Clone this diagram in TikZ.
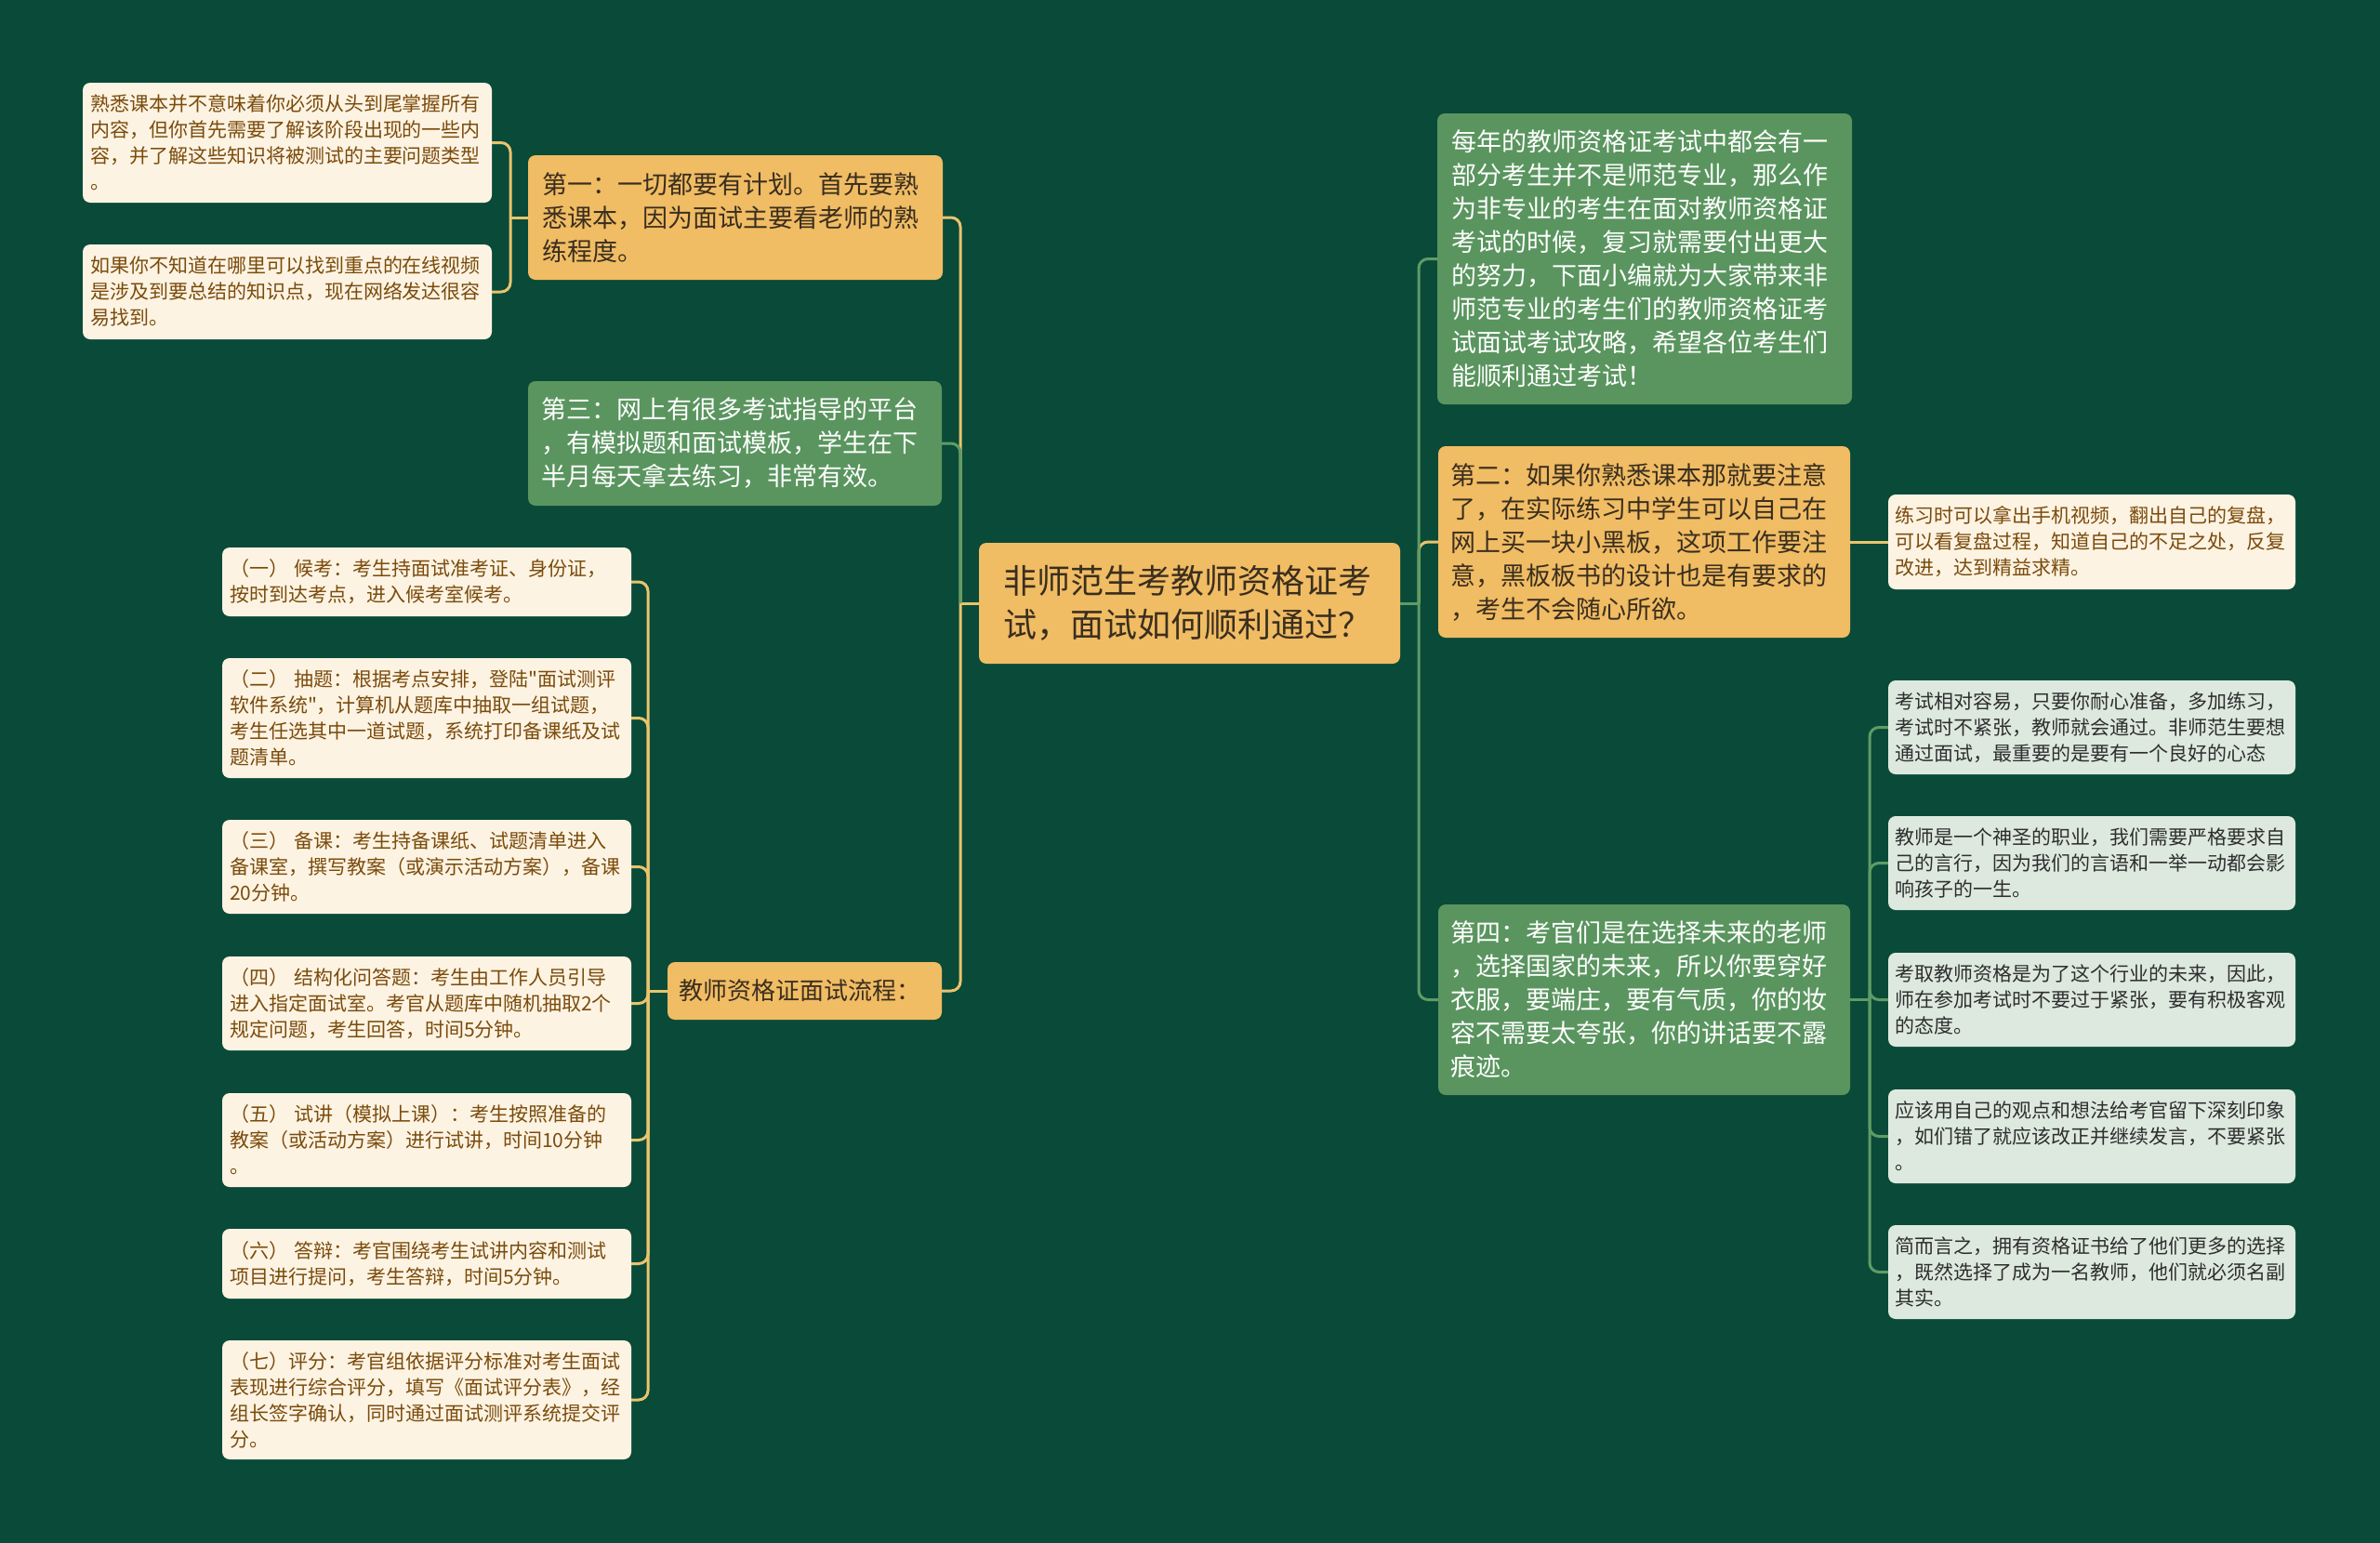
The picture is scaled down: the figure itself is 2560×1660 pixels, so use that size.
\documentclass[tikz,border=0pt]{standalone}
\usepackage{fontspec}
\newfontfamily\cjk{Noto Sans CJK SC}
\definecolor{bgc}{HTML}{0A4A38}
\definecolor{ofill}{HTML}{F0BC64}
\definecolor{gfill}{HTML}{5A955F}
\definecolor{cream}{HTML}{FCF3E3}
\definecolor{lgreen}{HTML}{DDE9DF}
\definecolor{ctext}{HTML}{7B4B0B}
\definecolor{otext}{HTML}{3A2E1E}
\definecolor{gtext}{HTML}{2E2E2E}
\definecolor{olinec}{HTML}{E9C46E}
\definecolor{glinec}{HTML}{5E9C66}
\tikzset{
  base/.style={rounded corners=8pt, inner sep=0pt, align=left},
  onode/.style={base, fill=ofill, text=otext},
  gnode/.style={base, fill=gfill, text=white},
  cleaf/.style={base, fill=cream, text=ctext, font=\cjk\fontsize{21pt}{28pt}\selectfont},
  gleaf/.style={base, fill=lgreen, text=gtext, font=\cjk\fontsize{21pt}{28pt}\selectfont},
  mid/.style={font=\cjk\fontsize{27pt}{36pt}\selectfont},
  bx/.style n args={3}{minimum width=#1pt, minimum height=#2pt, text width=#3pt},
  oconn/.style={draw=olinec, line width=3pt, rounded corners=10pt},
  gconn/.style={draw=glinec, line width=3pt, rounded corners=10pt},
}
\begin{document}
\begin{tikzpicture}[x=1pt,y=-1pt]
\fill[bgc] (0,0) rectangle (2560,1660);
\useasboundingbox (0,0) rectangle (2560,1660);

% trunk coordinates
\coordinate (tl) at (1033,649);
\coordinate (tr) at (1526,649);
\coordinate (t1) at (549,234);
\coordinate (tf) at (697,1066);
\coordinate (t4) at (2011,1075);

% centre
\node[onode, bx={453}{130}{400}, font=\cjk\fontsize{36pt}{47pt}\selectfont] (c) at (1279.5,649)
  {非师范生考教师资格证考\\试，面试如何顺利通过？};

% left main branches
\node[onode, mid, bx={446}{134}{416}] (n1) at (791,234)
  {第一：一切都要有计划。首先要熟\\悉课本，因为面试主要看老师的熟\\练程度。};
\node[gnode, mid, bx={445}{134}{416}] (n3) at (790.5,477)
  {第三：网上有很多考试指导的平台\\，有模拟题和面试模板，学生在下\\半月每天拿去练习，非常有效。};
\node[onode, bx={295}{62}{271}, font=\cjk\fontsize{26pt}{34pt}\selectfont] (fl) at (865.5,1066)
  {教师资格证面试流程：};

% right main branches
\node[gnode, mid, bx={446}{313}{416}] (in) at (1769,278.5)
  {每年的教师资格证考试中都会有一\\部分考生并不是师范专业，那么作\\为非专业的考生在面对教师资格证\\考试的时候，复习就需要付出更大\\的努力，下面小编就为大家带来非\\师范专业的考生们的教师资格证考\\试面试考试攻略，希望各位考生们\\能顺利通过考试！};
\node[onode, mid, bx={443}{206}{416}] (n2) at (1768.5,583)
  {第二：如果你熟悉课本那就要注意\\了，在实际练习中学生可以自己在\\网上买一块小黑板，这项工作要注\\意，黑板板书的设计也是有要求的\\，考生不会随心所欲。};
\node[gnode, mid, bx={443}{205}{416}] (n4) at (1768.5,1075.5)
  {第四：考官们是在选择未来的老师\\，选择国家的未来，所以你要穿好\\衣服，要端庄，要有气质，你的妆\\容不需要太夸张，你的讲话要不露\\痕迹。};

% leaves of n1
\node[cleaf, bx={440}{129}{424}] (a1) at (309,153.5)
  {熟悉课本并不意味着你必须从头到尾掌握所有\\内容，但你首先需要了解该阶段出现的一些内\\容，并了解这些知识将被测试的主要问题类型\\。};
\node[cleaf, bx={440}{102}{424}] (a2) at (309,314)
  {如果你不知道在哪里可以找到重点的在线视频\\是涉及到要总结的知识点，现在网络发达很容\\易找到。};

% leaves of flow
\node[cleaf, bx={440}{74}{424}] (f1) at (459,626)
  {（一） 候考：考生持面试准考证、身份证，\\按时到达考点，进入候考室候考。};
\node[cleaf, bx={440}{129}{424}] (f2) at (459,772.5)
  {（二） 抽题：根据考点安排，登陆"面试测评\\软件系统"，计算机从题库中抽取一组试题，\\考生任选其中一道试题，系统打印备课纸及试\\题清单。};
\node[cleaf, bx={440}{101}{424}] (f3) at (459,932.5)
  {（三） 备课：考生持备课纸、试题清单进入\\备课室，撰写教案（或演示活动方案），备课\\20分钟。};
\node[cleaf, bx={440}{101}{424}] (f4) at (459,1079.5)
  {（四） 结构化问答题：考生由工作人员引导\\进入指定面试室。考官从题库中随机抽取2个\\规定问题，考生回答，时间5分钟。};
\node[cleaf, bx={440}{101}{424}] (f5) at (459,1226.5)
  {（五） 试讲（模拟上课）：考生按照准备的\\教案（或活动方案）进行试讲，时间10分钟\\。};
\node[cleaf, bx={440}{75}{424}] (f6) at (459,1359.5)
  {（六） 答辩：考官围绕考生试讲内容和测试\\项目进行提问，考生答辩，时间5分钟。};
\node[cleaf, bx={440}{128}{424}] (f7) at (459,1506)
  {（七）评分：考官组依据评分标准对考生面试\\表现进行综合评分，填写《面试评分表》，经\\组长签字确认，同时通过面试测评系统提交评\\分。};

% leaf of n2
\node[cleaf, bx={438}{102}{424}] (b1) at (2250,583)
  {练习时可以拿出手机视频，翻出自己的复盘，\\可以看复盘过程，知道自己的不足之处，反复\\改进，达到精益求精。};

% leaves of n4
\node[gleaf, bx={438}{101}{424}] (r1) at (2250,782.5)
  {考试相对容易，只要你耐心准备，多加练习，\\考试时不紧张，教师就会通过。非师范生要想\\通过面试，最重要的是要有一个良好的心态};
\node[gleaf, bx={438}{101}{424}] (r2) at (2250,928.5)
  {教师是一个神圣的职业，我们需要严格要求自\\己的言行，因为我们的言语和一举一动都会影\\响孩子的一生。};
\node[gleaf, bx={438}{101}{424}] (r3) at (2250,1075.5)
  {考取教师资格是为了这个行业的未来，因此，\\师在参加考试时不要过于紧张，要有积极客观\\的态度。};
\node[gleaf, bx={438}{101}{424}] (r4) at (2250,1222.5)
  {应该用自己的观点和想法给考官留下深刻印象\\，如们错了就应该改正并继续发言，不要紧张\\。};
\node[gleaf, bx={438}{101}{424}] (r5) at (2250,1368.5)
  {简而言之，拥有资格证书给了他们更多的选择\\，既然选择了成为一名教师，他们就必须名副\\其实。};

% connectors: centre left
\draw[oconn] (c.west) -- (c.west -| tl);
\draw[oconn] (c.west -| tl) |- (n1.east);
\draw[oconn] (c.west -| tl) |- (fl.east);
\draw[gconn] (c.west -| tl) |- (n3.east);
% centre right
\draw[gconn] (c.east) -- (c.east -| tr);
\draw[oconn] (c.east -| tr) |- (n2.west);
\draw[gconn] (c.east -| tr) |- (in.west);
\draw[gconn] (c.east -| tr) |- (n4.west);
% n1 leaves
\draw[oconn] (n1.west) -- (n1.west -| t1);
\draw[oconn] (n1.west -| t1) |- (a1.east);
\draw[oconn] (n1.west -| t1) |- (a2.east);
% flow leaves
\draw[oconn] (fl.west) -- (fl.west -| tf);
\foreach \k in {f1,f2,f3,f4,f5,f6,f7}
  \draw[oconn] (fl.west -| tf) |- (\k.east);
% n2 leaf
\draw[oconn] (n2.east) -- (b1.west);
% n4 leaves
\draw[gconn] (n4.east) -- (n4.east -| t4);
\foreach \k in {r1,r2,r3,r4,r5}
  \draw[gconn] (n4.east -| t4) |- (\k.west);
\end{tikzpicture}
\end{document}
